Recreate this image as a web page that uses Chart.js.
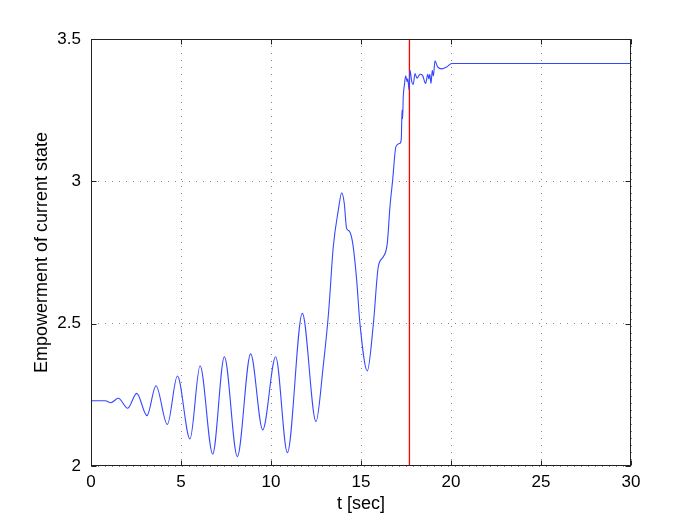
<!DOCTYPE html>
<html>
<head>
<meta charset="utf-8">
<script src="https://cdn.jsdelivr.net/npm/chart.js@4/dist/chart.umd.min.js"></script>
<style>
  body { margin: 0; background: #fff; }
</style>
</head>
<body>
<canvas id="myChart" width="698" height="525"></canvas>
<script>
// time (sec)
var tSec = [0, 0.8, 1.1, 1.52, 2.04, 2.54, 3.11, 3.61, 4.24, 4.8, 5.5, 6.06, 6.76, 7.41, 8.13, 8.87,
  9.54, 10.26, 10.91, 11.74, 12.5, 12.9, 13.2, 13.46, 13.74, 13.93, 14.07, 14.2, 14.35, 14.54, 14.76,
  14.94, 15.35, 15.69, 15.96, 16.24, 16.46, 16.61, 16.76, 16.94, 17.17, 17.24, 17.28, 17.31, 17.35,
  17.41, 17.48, 17.56, 17.6, 17.67, 17.72, 17.82, 17.9, 18.0, 18.11, 18.28, 18.42, 18.59, 18.71,
  18.77, 18.82, 18.89, 18.96, 19.02, 19.11, 19.26, 19.48, 19.76, 20.04, 30];
// empowerment of current state
var empowerment = [2.229, 2.229, 2.222, 2.238, 2.203, 2.255, 2.177, 2.282, 2.146, 2.316, 2.095, 2.352,
  2.042, 2.384, 2.033, 2.394, 2.127, 2.384, 2.047, 2.536, 2.156, 2.35, 2.54, 2.77, 2.899, 2.96, 2.923,
  2.835, 2.825, 2.782, 2.653, 2.501, 2.334, 2.501, 2.70, 2.735, 2.782, 2.911, 3.005, 3.122, 3.134,
  3.15, 3.25, 3.22, 3.30, 3.338, 3.371, 3.35, 3.36, 3.321, 3.391, 3.35, 3.34, 3.379, 3.362, 3.376,
  3.372, 3.344, 3.376, 3.36, 3.376, 3.344, 3.39, 3.37, 3.423, 3.402, 3.395, 3.402, 3.414, 3.414];
// vertical marker
var markerT = [17.69, 17.69];
var markerY = [2, 3.5];

var xTicks = [0, 5, 10, 15, 20, 25, 30];
var yTicks = [2, 2.5, 3, 3.5];

var FONT = '"Liberation Sans", Arial, sans-serif';

function toPoints(xs, ys) {
  var pts = [];
  for (var i = 0; i < xs.length; i++) pts.push({ x: xs[i], y: ys[i] });
  return pts;
}

// matlab style box with inward ticks
var boxPlugin = {
  id: 'box',
  afterDatasetsDraw: function(chart) {
    var ctx = chart.ctx;
    var a = chart.chartArea;
    var xs = chart.scales.x, ys = chart.scales.y;
    var L = Math.round(a.left) + 0.5, R = Math.round(a.right) - 0.5;
    var T = Math.round(a.top) + 0.5, B = Math.round(a.bottom) - 0.5;
    var len = 5;
    ctx.save();
    ctx.strokeStyle = '#222';
    ctx.lineWidth = 1;
    ctx.beginPath();
    xTicks.forEach(function(v) {
      var px = Math.round(xs.getPixelForValue(v)) + 0.5;
      ctx.moveTo(px, B); ctx.lineTo(px, B - len);
      ctx.moveTo(px, T); ctx.lineTo(px, T + len);
    });
    yTicks.forEach(function(v) {
      var py = Math.round(ys.getPixelForValue(v)) + 0.5;
      ctx.moveTo(L, py); ctx.lineTo(L + len, py);
      ctx.moveTo(R, py); ctx.lineTo(R - len, py);
    });
    ctx.stroke();
    ctx.strokeRect(L, T, R - L, B - T);
    ctx.restore();
  }
};

var ctx = document.getElementById('myChart');
var chart = new Chart(ctx, {
  type: 'line',
  data: {
    datasets: [{
      data: toPoints(tSec, empowerment),
      borderColor: '#3548ff',
      borderWidth: 1.1,
      pointRadius: 0,
      cubicInterpolationMode: 'monotone',
      fill: false
    }, {
      data: toPoints(markerT, markerY),
      borderColor: '#ff0000',
      borderWidth: 1.3,
      pointRadius: 0,
      fill: false
    }]
  },
  options: {
    responsive: false,
    animation: false,
    events: [],
    layout: { padding: { left: 0, right: 67, top: 39, bottom: 0 } },
    plugins: { legend: { display: false }, tooltip: { enabled: false } },
    scales: {
      x: {
        type: 'linear',
        min: 0, max: 30,
        afterBuildTicks: function(s) { s.ticks = xTicks.map(function(v) { return { value: v }; }); },
        afterFit: function(s) { s.height = 59; },
        ticks: { color: '#000', padding: 6, maxRotation: 0, font: { family: FONT, size: 17 },
          callback: function(v) { return String(v); } },
        grid: { color: '#888', lineWidth: 1, drawTicks: false, tickLength: 0 },
        border: { display: false, dash: [1, 6] },
        title: { display: true, text: 't [sec]', color: '#000', padding: { top: 0, bottom: 10 },
          font: { family: FONT, size: 18 } }
      },
      y: {
        min: 2, max: 3.5,
        afterBuildTicks: function(s) { s.ticks = yTicks.map(function(v) { return { value: v }; }); },
        afterFit: function(s) { s.width = 91; },
        ticks: { color: '#000', padding: 10, font: { family: FONT, size: 17 },
          callback: function(v) { return String(v); } },
        grid: { color: '#888', lineWidth: 1, drawTicks: false, tickLength: 0 },
        border: { display: false, dash: [1, 6] },
        title: { display: true, text: 'Empowerment of current state', color: '#000',
          padding: { top: 31, bottom: 0 }, font: { family: FONT, size: 18 } }
      }
    }
  },
  plugins: [boxPlugin]
});
</script>
</body>
</html>
